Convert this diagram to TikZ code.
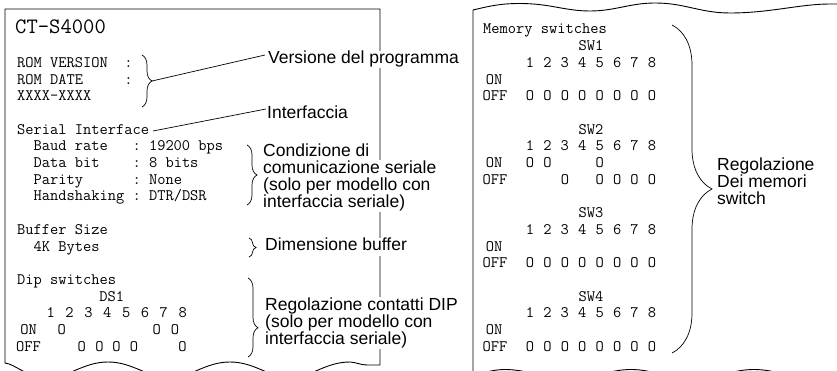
\documentclass[tikz,border=0pt]{standalone}
\usepackage{fontspec}
\newfontfamily\labelfont{Liberation Sans}
\usetikzlibrary{decorations.pathreplacing}
\tikzset{
  paper/.style={line width=0.9pt, line join=round},
  mono/.style={font=\fontsize{16}{16}\selectfont\ttfamily, inner sep=0pt},
  bigmono/.style={font=\fontsize{22}{22}\selectfont\ttfamily, inner sep=0pt, anchor=base west},
  lbl/.style={font=\fontsize{17.5}{17.5}\selectfont\labelfont, fill=white, inner xsep=1.5pt, inner ysep=0.5pt, text height=12.8pt, text depth=4pt, anchor=base west},
  lead/.style={line width=0.7pt},
  brc/.style={line width=0.7pt, decorate, decoration={brace, amplitude=#1}},
  brcasp/.style 2 args={line width=0.7pt, decorate, decoration={brace, amplitude=#1, aspect=#2}},
}
\newcommand\circrow[3]{\foreach \xx [count=\ii] in {#2} {\node[mono, anchor=base] (#3\ii) at (\xx,#1) {O};}}
\newcommand\digitrow[4]{\foreach \kk in {1,...,8} {\node[mono, anchor=base] (#4\kk) at ({#2+#3*(\kk-1)},#1) {\kk};}}
\begin{document}
\begin{tikzpicture}[x=1pt,y=-1pt]
\useasboundingbox (0,0) rectangle (837,371);
% ---------- left paper ----------
\draw[paper] (5,363) -- (5,9) -- (380,9) -- (380,365) -- (368,365)
  .. controls (360,365) and (355,362) .. (350,362)
  .. controls (325,362) and (310,378) .. (290,378)
  .. controls (270,378) and (255,362) .. (230,362)
  .. controls (205,362) and (190,378) .. (169,378)
  .. controls (148,378) and (133,362) .. (108,362)
  .. controls (83,362) and (68,378) .. (47,378)
  .. controls (28,378) and (15,364) .. (5,363);
% ---------- right paper ----------
\draw[paper] (473,380) -- (473,10)
  .. controls (490,6) and (500,3.5) .. (520,3.5)
  .. controls (550,3.5) and (565,11) .. (590,11)
  .. controls (615,11) and (630,3) .. (655,3)
  .. controls (685,3) and (700,13) .. (730,13)
  .. controls (770,13) and (800,4) .. (830,4)
  .. controls (835,4) and (837,4) .. (840,4);
\draw[paper] (473,376)
  .. controls (485,372) and (495,369.5) .. (505,369.5)
  .. controls (530,369.5) and (545,380) .. (568,380)
  .. controls (590,380) and (608,369.5) .. (631,369.5)
  .. controls (655,369.5) and (670,380) .. (692,380)
  .. controls (715,380) and (730,369.5) .. (754,369.5)
  .. controls (778,369.5) and (795,380) .. (816,380)
  .. controls (825,380) and (835,376) .. (840,374);
% ---------- left text ----------
\node[bigmono] (title) at (15,34) {CT-S4000};
\node[mono, anchor=base west] (l2) at (17,67.4) {ROM~VERSION~~:};
\node[mono, anchor=base west] (l3) at (17,84.1) {ROM~DATE~~~~~:};
\node[mono, anchor=base west] (l4) at (17,100.8) {XXXX-XXXX};
\node[mono, anchor=base west] (l6) at (17,134.2) {Serial~Interface};
\node[mono, anchor=base west] (l7) at (17,150.9) {~~Baud~rate~~~:~19200~bps};
\node[mono, anchor=base west] (l8) at (17,167.6) {~~Data~bit~~~~:~8~bits};
\node[mono, anchor=base west] (l9) at (17,184.3) {~~Parity~~~~~~:~None};
\node[mono, anchor=base west] (l10) at (17,201) {~~Handshaking~:~DTR/DSR};
\node[mono, anchor=base west] (l12) at (17,234.4) {Buffer~Size};
\node[mono, anchor=base west] (l13) at (17,251.1) {~~4K~Bytes};
\node[mono, anchor=base west] (l15) at (17,284.5) {Dip~switches};
\node[mono, anchor=base] (ds1) at (111.7,301.2) {DS1};
\digitrow{317.9}{50.7}{18.86}{dd}
\node[mono, anchor=base] (don) at (28.5,334.6) {ON};
\node[mono, anchor=base] (doff) at (28.5,351.3) {OFF};
\circrow{334.6}{61.7,156.7,175}{dn}
\circrow{351.3}{81.7,99.5,116.5,134,182.5}{df}
% ---------- right text ----------
\node[mono, anchor=base west] (mem) at (483,34) {Memory~switches};
\node[mono, anchor=base] (sw1) at (591,50.7) {SW1};
\digitrow{67.4}{530}{17.43}{a}
\node[mono, anchor=base] (on1) at (494,84.1) {ON};
\node[mono, anchor=base] (off1) at (495,100.8) {OFF};
\circrow{100.8}{530,547.4,564.9,582.3,599.7,617.2,634.6,652}{af}
\node[mono, anchor=base] (sw2) at (591,134.2) {SW2};
\digitrow{150.9}{530}{17.43}{b}
\node[mono, anchor=base] (on2) at (494,167.6) {ON};
\node[mono, anchor=base] (off2) at (495,184.3) {OFF};
\circrow{167.6}{530,547.4,599.7}{bn}
\circrow{184.3}{564.9,599.7,617.2,634.6,652}{bf}
\node[mono, anchor=base] (sw3) at (591,217.7) {SW3};
\digitrow{234.4}{530}{17.43}{c}
\node[mono, anchor=base] (on3) at (494,251.1) {ON};
\node[mono, anchor=base] (off3) at (495,267.8) {OFF};
\circrow{267.8}{530,547.4,564.9,582.3,599.7,617.2,634.6,652}{cf}
\node[mono, anchor=base] (sw4) at (591,301.2) {SW4};
\digitrow{317.9}{530}{17.43}{e}
\node[mono, anchor=base] (on4) at (494,334.6) {ON};
\node[mono, anchor=base] (off4) at (495,351.3) {OFF};
\circrow{351.3}{530,547.4,564.9,582.3,599.7,617.2,634.6,652}{ef}
% ---------- braces ----------
\coordinate (romA) at (142,55); \coordinate (romB) at (142,107); \coordinate (romtip) at (152,81);
\draw[brc=10] (romA) -- (romB);
\coordinate (serA) at (247,145); \coordinate (serB) at (247,205);
\draw[brc=10] (serA) -- (serB);
\coordinate (bufA) at (249,238); \coordinate (bufB) at (249,257);
\draw[brc=7] (bufA) -- (bufB);
\coordinate (dipA) at (248,278); \coordinate (dipB) at (248,357);
\draw[brcasp={10}{0.63}] (dipA) -- (dipB);
\coordinate (memA) at (672,25); \coordinate (memB) at (672,353);
\draw[brc=40] (memA) -- (memB);
% ---------- leaders ----------
\coordinate (verend) at (265,55);
\coordinate (serend) at (153,131);
\coordinate (intend) at (266,109);
\draw[lead] (romtip) -- (verend);
\draw[lead] (serend) -- (intend);
% ---------- labels ----------
\node[lbl] (ver) at (266.5,64) {Versione del programma};
\node[lbl] (int) at (265.5,118.3) {Interfaccia};
\node[lbl] (c1) at (261.5,157) {Condizione di};
\node[lbl] (c2) at (261.5,173.7) {comunicazione seriale};
\node[lbl] (c3) at (261.5,190.4) {(solo per modello con};
\node[lbl] (c4) at (261.5,207.1) {interfaccia seriale)};
\node[lbl] (dim) at (263.5,251) {Dimensione buffer};
\node[lbl] (r1) at (263.5,310.7) {Regolazione contatti DIP};
\node[lbl] (r2) at (263.5,327.4) {(solo per modello con};
\node[lbl] (r3) at (263.5,344.1) {interfaccia seriale)};
\node[lbl] (m1) at (715.5,171) {Regolazione};
\node[lbl] (m2) at (715.5,187.7) {Dei memori};
\node[lbl] (m3) at (715.5,204.4) {switch};
\end{tikzpicture}
\end{document}
